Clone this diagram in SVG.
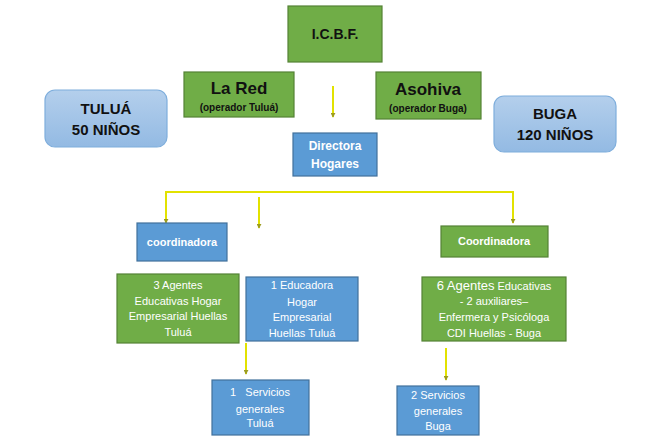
<svg xmlns="http://www.w3.org/2000/svg" width="659" height="439" viewBox="0 0 659 439">
<defs>
<linearGradient id="lb" x1="0" y1="0" x2="0" y2="1">
<stop offset="0" stop-color="#B4CFEC"/>
<stop offset="1" stop-color="#93BAE3"/>
</linearGradient>
<marker id="ah" viewBox="0 0 6 6" refX="5" refY="3" markerWidth="5" markerHeight="5" markerUnits="userSpaceOnUse" orient="auto-start-reverse">
<path d="M0,0 L6,3 L0,6 Z" fill="#9C9C20"/>
</marker>
</defs>
<style>
text{font-family:"Liberation Sans",Arial,sans-serif;text-anchor:middle}
.g{fill:#70AD47;stroke:#548235;stroke-width:1.2}
.b{fill:#5B9BD5;stroke:#41719C;stroke-width:1.2}
.r{fill:url(#lb);stroke:#7FAEDC;stroke-width:1.2}
.k{fill:#111;font-weight:bold}
.w{fill:#fff;font-size:11px}
.wb{fill:#fff;font-weight:bold}
.c{fill:none;stroke:#E2E200;stroke-width:2}
</style>
<g id="connectors">
<line class="c" x1="333" y1="86" x2="333" y2="117" marker-end="url(#ah)" stroke-width="1.5"/>
<polyline class="c" points="166,223 166,192 513,192 513,223" marker-start="url(#ah)" marker-end="url(#ah)"/>
<line class="c" x1="259" y1="197" x2="259" y2="228" marker-end="url(#ah)" stroke-width="1.5"/>
<line class="c" x1="246" y1="343" x2="246" y2="374" marker-end="url(#ah)"/>
<line class="c" x1="446" y1="348" x2="446" y2="380" marker-end="url(#ah)"/>
</g>
<g id="icbf">
<rect class="g" x="288" y="6" width="94" height="56"/>
<text class="k" x="335" y="39" font-size="14">I.C.B.F.</text>
</g>
<g id="lared">
<rect class="g" x="184" y="72" width="110" height="45"/>
<text class="k" x="239" y="94" font-size="17">La Red</text>
<text class="k" x="239" y="111" font-size="10">(operador Tuluá)</text>
</g>
<g id="asohiva">
<rect class="g" x="376" y="72" width="105" height="47"/>
<text class="k" x="428" y="95" font-size="17">Asohiva</text>
<text class="k" x="428" y="112" font-size="10">(operador Buga)</text>
</g>
<g id="tulua">
<rect class="r" x="45" y="90" width="122" height="57" rx="10"/>
<text class="k" x="106" y="114" font-size="15">TULUÁ</text>
<text class="k" x="106" y="135" font-size="15">50 NIÑOS</text>
</g>
<g id="buga">
<rect class="r" x="494" y="96" width="122" height="56" rx="10"/>
<text class="k" x="555" y="119" font-size="15">BUGA</text>
<text class="k" x="555" y="140" font-size="15">120 NIÑOS</text>
</g>
<g id="directora">
<rect class="b" x="293" y="133" width="84" height="43"/>
<text class="wb" x="335" y="150" font-size="12">Directora</text>
<text class="wb" x="335" y="168" font-size="12">Hogares</text>
</g>
<g id="coordinadora-tulua">
<rect class="b" x="137" y="223" width="90" height="38"/>
<text class="wb" x="182" y="246" font-size="11">coordinadora</text>
</g>
<g id="coordinadora-buga">
<rect class="g" x="441" y="226" width="107" height="31"/>
<text class="wb" x="494" y="245" font-size="11">Coordinadora</text>
</g>
<g id="agentes-tulua">
<rect class="g" x="117" y="274" width="122" height="69"/>
<text class="w" x="178" y="289">3 Agentes</text>
<text class="w" x="178" y="305">Educativas Hogar</text>
<text class="w" x="178" y="320">Empresarial Huellas</text>
<text class="w" x="178" y="336">Tuluá</text>
</g>
<g id="educadora">
<rect class="b" x="246" y="277" width="112" height="64"/>
<text class="w" x="302" y="289">1 Educadora</text>
<text class="w" x="302" y="306">Hogar</text>
<text class="w" x="302" y="321">Empresarial</text>
<text class="w" x="302" y="337">Huellas Tuluá</text>
</g>
<g id="servicios-tulua">
<rect class="b" x="212" y="380" width="97" height="55"/>
<text class="w" x="260" y="396" xml:space="preserve">1   Servicios</text>
<text class="w" x="260" y="413">generales</text>
<text class="w" x="260" y="427">Tuluá</text>
</g>
<g id="agentes-buga">
<rect class="g" x="422" y="277" width="144" height="64"/>
<text class="w" x="494" y="290"><tspan font-size="13">6 Agentes</tspan> Educativas</text>
<text class="w" x="494" y="305">- 2 auxiliares–</text>
<text class="w" x="494" y="321">Enfermera y Psicóloga</text>
<text class="w" x="494" y="337">CDI Huellas - Buga</text>
</g>
<g id="servicios-buga">
<rect class="b" x="397" y="386" width="82" height="49"/>
<text class="w" x="438" y="399">2 Servicios</text>
<text class="w" x="438" y="415">generales</text>
<text class="w" x="438" y="430">Buga</text>
</g>
</svg>
